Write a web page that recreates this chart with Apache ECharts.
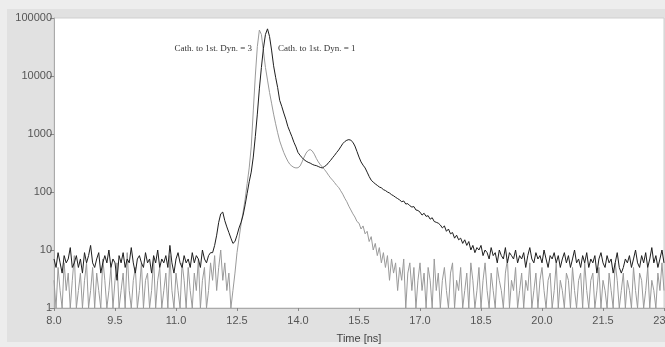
<!DOCTYPE html>
<html>
<head>
<meta charset="utf-8">
<script src="https://cdn.jsdelivr.net/npm/echarts@6/dist/echarts.min.js"></script>
<style>html,body{margin:0;padding:0;background:#ededed}#c{width:665px;height:347px}</style>
</head>
<body>
<div id="c"></div>
<script>
// Sampling grid: time in ns
const tStart = 8.0;
const tStep = 0.05;

// Cath. to 1st. Dyn. = 1 (black), one value per 0.05 ns from 8.0 ns
const dyn1 = [
  7, 5, 9, 6, 4, 8, 6, 7, 11, 5,
  6, 8, 5, 7, 4, 9, 6, 8, 12, 6,
  5, 7, 9, 4, 6, 8, 6, 10, 5, 7,
  6, 3, 8, 6, 9, 5, 7, 6, 11, 6,
  4, 7, 8, 6, 5, 9, 6, 7, 4, 8,
  6, 10, 5, 7, 6, 8, 5, 12, 6, 4,
  7, 9, 6, 5, 8, 6, 7, 5, 9, 6,
  8, 7, 5, 10, 7, 6, 8, 9, 9, 12,
  18, 30, 42, 45, 32, 25, 20, 16, 13, 14,
  18, 24, 30, 40, 60, 95, 150, 220, 400, 900,
  2200, 6000, 14000, 30000, 52000, 65000, 48000, 28000, 15000, 9500,
  6300, 3800, 3000, 2300, 1800, 1350, 1100, 900, 720, 600,
  480, 430, 390, 360, 340, 325, 315, 300, 290, 285,
  275, 265, 260, 275, 290, 320, 350, 390, 430, 480,
  530, 600, 680, 740, 780, 800, 780, 720, 620, 500,
  400, 330, 290, 260, 220, 185, 160, 148, 138, 130,
  122, 118, 110, 106, 100, 96, 90, 86, 81, 77,
  73, 68, 70, 62, 63, 58, 55, 56, 49, 48,
  45, 40, 43, 38, 39, 34, 36, 31, 30, 29,
  27, 24, 26, 21, 23, 19, 20, 16, 18, 15,
  16, 13, 15, 12, 14, 10, 12, 9, 11, 10,
  12, 8, 10, 9, 7, 11, 8, 9, 6, 10,
  8, 7, 11, 6, 9, 8, 7, 10, 6, 8,
  7, 9, 5, 8, 11, 7, 6, 9, 7, 8,
  6, 10, 7, 5, 8, 7, 9, 6, 8, 5,
  7, 9, 6, 8, 5, 7, 10, 6, 7, 5,
  8, 6, 9, 5, 7, 6, 8, 4, 7, 9,
  6, 5, 8, 6, 7, 4, 6, 9, 5, 4,
  5, 7, 6, 8, 5, 7, 10, 6, 5, 8,
  6, 9, 5, 7, 11, 6, 8, 5, 7, 10,
  6
];

// Cath. to 1st. Dyn. = 3 (gray)
const dyn3 = [
  3, 1, 5, 2, 1, 6, 2, 4, 1, 3,
  8, 1, 2, 4, 1, 3, 6, 1, 2, 5,
  1, 4, 2, 1, 7, 3, 1, 2, 5, 1,
  3, 6, 1, 2, 4, 1, 9, 2, 1, 3,
  5, 1, 2, 6, 1, 3, 4, 1, 2, 7,
  1, 3, 5, 1, 2, 4, 1, 8, 2, 1,
  4, 2, 1, 6, 3, 1, 5, 2, 1, 4,
  2, 7, 1, 3, 5, 1, 2, 6, 3, 8,
  2, 5, 10, 3, 6, 2, 4, 1, 2, 4,
  9, 16, 28, 45, 75, 140, 260, 600, 2500, 10000,
  32000, 62000, 52000, 27000, 14000, 8500, 5200, 3400, 2200, 1500,
  1050, 760, 600, 480, 400, 340, 300, 280, 265, 260,
  262, 280, 330, 400, 470, 520, 540, 510, 450, 380,
  330, 295, 270, 245, 220, 195, 175, 160, 145, 130,
  120, 105, 92, 78, 68, 57, 49, 42, 37, 31,
  29, 23, 26, 19, 21, 14, 17, 10, 13, 8,
  11, 6, 9, 5, 8, 3, 7, 4, 6, 2,
  5, 3, 7, 1, 4, 6, 2, 5, 1, 3,
  6, 2, 4, 1, 5, 3, 1, 7, 2, 4,
  1, 3, 5, 2, 1, 4, 6, 1, 3, 2,
  5, 1, 2, 4, 1, 6, 3, 1, 2, 5,
  1, 3, 6, 2, 1, 4, 2, 1, 5, 3,
  2, 1, 4, 7, 1, 3, 2, 5, 1, 2,
  4, 1, 3, 2, 6, 1, 2, 4, 1, 3,
  5, 2, 1, 3, 4, 1, 2, 6, 1, 3,
  2, 1, 4, 3, 1, 5, 2, 1, 3, 4,
  1, 6, 2, 1, 3, 4, 1, 2, 5, 1,
  3, 2, 1, 4, 2, 1, 6, 3, 1, 2,
  4, 1, 3, 2, 1, 5, 2, 1, 4, 3,
  1, 2, 5, 1, 3, 2, 1, 4, 2, 6,
  2
];

const seriesNames = ['Cath. to 1st. Dyn. = 3', 'Cath. to 1st. Dyn. = 1'];
const xAxisName = 'Time [ns]';

const toPairs = arr => arr.map((v, i) => [+(tStart + i * tStep).toFixed(2), v]);

const chart = echarts.init(document.getElementById('c'), null, {renderer: 'canvas'});
chart.setOption({
  animation: false,
  backgroundColor: '#ededed',
  graphic: {
    elements: [
      {type: 'rect', z: -10, shape: {x: 7, y: 9, width: 658, height: 333}, style: {fill: '#e1e1e1'}},
      {type: 'text', z: 10, x: 252, y: 49, style: {text: seriesNames[0], font: '9px "Liberation Serif", serif', fill: '#333', align: 'right', verticalAlign: 'middle'}},
      {type: 'text', z: 10, x: 278, y: 49, style: {text: seriesNames[1], font: '9px "Liberation Serif", serif', fill: '#333', align: 'left', verticalAlign: 'middle'}}
    ]
  },
  grid: {left: 54, right: 1, top: 18, bottom: 39, outerBoundsMode: 'none', containLabel: false, show: true, backgroundColor: '#ffffff', borderColor: '#cfcfcf', borderWidth: 1},
  xAxis: {
    type: 'value', min: 8, max: 23, interval: 1.5,
    name: xAxisName, nameLocation: 'middle', nameGap: 25,
    nameTextStyle: {color: '#444', fontSize: 11, fontFamily: '"Liberation Sans", Arial, sans-serif'},
    axisLine: {show: true, onZero: false, lineStyle: {color: '#aaaaaa'}},
    axisTick: {show: true, length: 3, lineStyle: {color: '#888'}},
    axisLabel: {color: '#555', fontSize: 11, fontFamily: '"Liberation Sans", Arial, sans-serif', margin: 7, hideOverlap: false, formatter: v => v.toFixed(1)},
    splitLine: {show: false}
  },
  yAxis: {
    type: 'log', logBase: 10, min: 1, max: 100000,
    axisLine: {show: true, lineStyle: {color: '#aaaaaa'}},
    axisTick: {show: true, length: 4, lineStyle: {color: '#888'}},
    axisLabel: {color: '#555', fontSize: 11, fontFamily: '"Liberation Sans", Arial, sans-serif', margin: 2, formatter: v => String(Math.round(v))},
    splitLine: {show: false},
    minorTick: {show: false}
  },
  series: [
    {name: seriesNames[0], type: 'line', data: toPairs(dyn3), showSymbol: false, symbol: 'none',
     lineStyle: {color: '#9a9a9a', width: 1}, z: 2},
    {name: seriesNames[1], type: 'line', data: toPairs(dyn1), showSymbol: false, symbol: 'none',
     lineStyle: {color: '#1e1e1e', width: 1}, z: 3}
  ]
});
</script>
</body>
</html>
